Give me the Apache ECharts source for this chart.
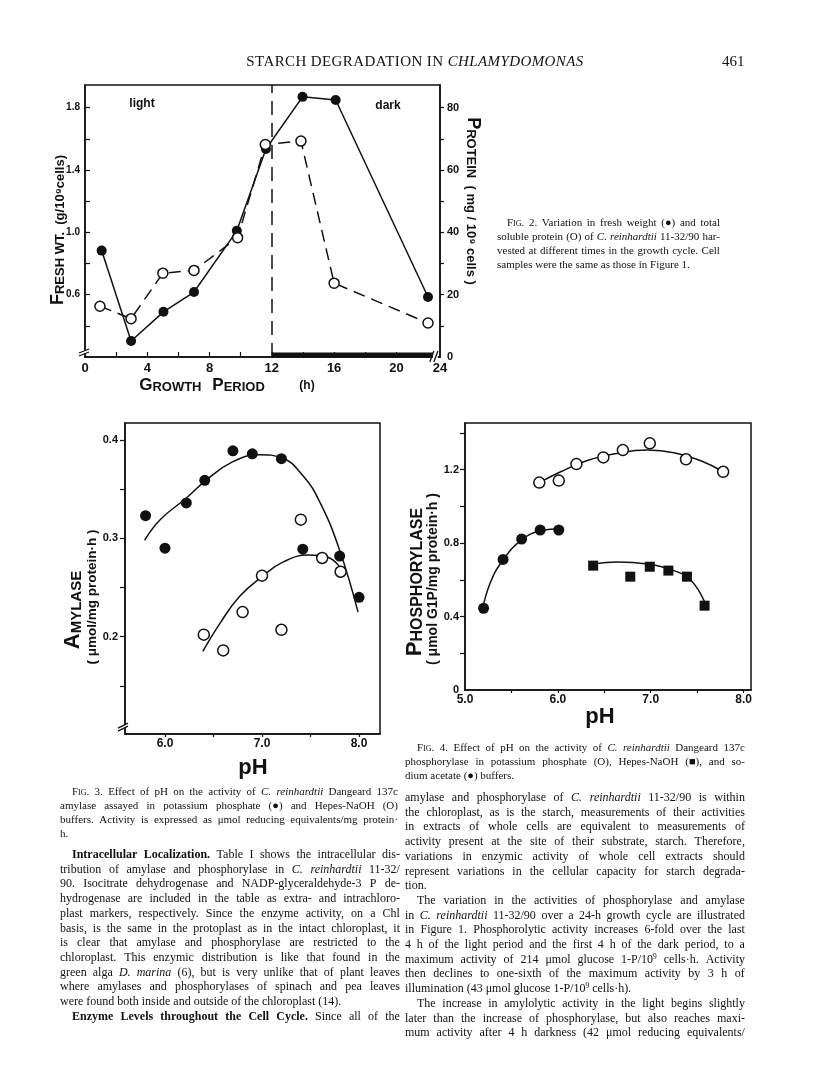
<!DOCTYPE html>
<html>
<head>
<meta charset="utf-8">
<title>Starch degradation in Chlamydomonas – p. 461</title>
<script src="https://cdn.jsdelivr.net/npm/echarts@6.0.0/dist/echarts.min.js"></script>
<style>
  html, body { margin:0; padding:0; background:#fff; }
  #page { position:relative; width:816px; height:1073px; overflow:hidden; background:#fff; }
  #chart { position:absolute; left:0; top:0; width:816px; height:1073px; }
  .txt { position:absolute; font-family:"Liberation Serif","Times New Roman",serif; color:#111; white-space:nowrap; box-sizing:border-box; }
  .jline { display:flex; justify-content:space-between; }
  .jline span { white-space:nowrap; }
  var { font-style:normal; font-variant:small-caps; }
  sup { font-size:0.62em; line-height:0; vertical-align:0.5em; }
</style>
</head>
<body>
<div id="page"><div id="chart"></div></div>
<script>
// ---------------- DATA ----------------
// Fig. 2 – growth cycle
const fig2FreshHours   = [1.07, 2.96, 5.04, 7.0, 9.75, 11.62, 13.97, 16.1, 22.03];
const fig2FreshWeight  = [0.883, 0.303, 0.49, 0.617, 1.01, 1.535, 1.87, 1.85, 0.585];
const fig2ProteinHours = [0.96, 2.96, 5.0, 7.0, 9.8, 11.58, 13.87, 16.0, 22.03];
const fig2Protein      = [16.3, 12.3, 26.9, 27.8, 38.3, 68.2, 69.3, 23.7, 10.9];
const fig2DarkStart    = 12;          // light / dark switch (h)
const fig2AxisEnd      = 22.8;        // broken axis: this position is labelled 24
const fig2BreakAt      = 22.35;       // where the "//" break sits on the time axis
const fig2XTickValues  = [2, 4, 6, 8, 10, 12, 14, 16, 18, 20];
const fig2XLabelValues = [0, 4, 8, 12, 16, 20, fig2AxisEnd];
const fig2XLabelTexts  = ['0', '4', '8', '12', '16', '20', '24'];
const fig2LeftTicks    = [0.4, 0.6, 0.8, 1.0, 1.2, 1.4, 1.6, 1.8];
const fig2LeftLabels   = [0.6, 1.0, 1.4, 1.8];
const fig2RightTicks   = [10, 20, 30, 40, 50, 60, 70, 80];
const fig2RightLabels  = [0, 20, 40, 60, 80];

// Fig. 3 – amylase vs pH
const fig3PhosphatePH      = [5.80, 6.00, 6.22, 6.41, 6.70, 6.90, 7.20, 7.42, 7.80, 8.00];
const fig3PhosphateAmylase = [0.323, 0.290, 0.336, 0.359, 0.389, 0.386, 0.381, 0.289, 0.282, 0.240];
const fig3HepesPH          = [6.40, 6.60, 6.80, 7.00, 7.20, 7.40, 7.62, 7.81];
const fig3HepesAmylase     = [0.202, 0.186, 0.225, 0.262, 0.207, 0.319, 0.280, 0.266];
const fig3PhosphateCurvePH = [5.79, 5.95, 6.22, 6.41, 6.70, 6.98, 7.20, 7.42, 7.60, 7.80, 7.99];
const fig3PhosphateCurve   = [0.298, 0.319, 0.341, 0.358, 0.378, 0.385, 0.382, 0.364, 0.336, 0.288, 0.225];
const fig3HepesCurvePH     = [6.39, 6.57, 6.77, 7.00, 7.22, 7.48, 7.67, 7.80];
const fig3HepesCurve       = [0.185, 0.214, 0.241, 0.261, 0.276, 0.283, 0.281, 0.271];
const fig3XTicks  = [6.0, 6.5, 7.0, 7.5, 8.0];
const fig3XLabels = [6.0, 7.0, 8.0];
const fig3YTicks  = [0.15, 0.2, 0.25, 0.3, 0.35, 0.4];
const fig3YLabels = [0.2, 0.3, 0.4];

// Fig. 4 – phosphorylase vs pH
const fig4AcetatePH        = [5.20, 5.41, 5.61, 5.81, 6.01];
const fig4AcetateAct       = [0.445, 0.711, 0.822, 0.871, 0.871];
const fig4AcetateCurvePH   = [5.18, 5.27, 5.41, 5.61, 5.81, 6.04];
const fig4AcetateCurve     = [0.418, 0.581, 0.708, 0.817, 0.866, 0.878];
const fig4PhosphatePH      = [5.80, 6.01, 6.20, 6.49, 6.70, 6.99, 7.38, 7.78];
const fig4PhosphateAct     = [1.129, 1.140, 1.230, 1.266, 1.306, 1.343, 1.256, 1.188];
const fig4PhosphateCurvePH = [5.80, 6.03, 6.31, 6.64, 6.96, 7.25, 7.54, 7.78];
const fig4PhosphateCurve   = [1.129, 1.188, 1.248, 1.288, 1.306, 1.292, 1.248, 1.188];
const fig4HepesPH          = [6.38, 6.78, 6.99, 7.19, 7.39, 7.58];
const fig4HepesAct         = [0.677, 0.617, 0.671, 0.650, 0.617, 0.459];
const fig4HepesCurvePH     = [6.38, 6.64, 6.96, 7.25, 7.43, 7.58];
const fig4HepesCurve       = [0.686, 0.697, 0.686, 0.650, 0.599, 0.480];
const fig4XTicks  = [5.5, 6.0, 6.5, 7.0, 7.5, 8.0];
const fig4XLabels = [5.0, 6.0, 7.0, 8.0];
const fig4YTicks  = [0.2, 0.4, 0.6, 0.8, 1.0, 1.2, 1.4];
const fig4YLabels = [0, 0.4, 0.8, 1.2];

// ---------------- PAGE TEXT ----------------
const headerTitle = 'STARCH DEGRADATION IN <i>CHLAMYDOMONAS</i>';
const pageNumber = '461';
const fig2Caption = [
  {t:'<var>Fig.</var> 2. Variation in fresh weight (●) and total', indent:10},
  {t:'soluble protein (O) of <i>C.</i> <i>reinhardtii</i> 11-32/90 har-'},
  {t:'vested at different times in the growth cycle. Cell'},
  {t:'samples were the same as those in Figure 1.', justify:false}
];
const fig3Caption = [
  {t:'<var>Fig.</var> 3. Effect of pH on the activity of <i>C.</i> <i>reinhardtii</i> Dangeard 137c', indent:12},
  {t:'amylase assayed in potassium phosphate (●) and Hepes-NaOH (O)'},
  {t:'buffers. Activity is expressed as μmol reducing equivalents/mg protein·'},
  {t:'h.', justify:false}
];
const fig4Caption = [
  {t:'<var>Fig.</var> 4. Effect of pH on the activity of <i>C.</i> <i>reinhardtii</i> Dangeard 137c', indent:12},
  {t:'phosphorylase in potassium phosphate (O), Hepes-NaOH (■), and so-'},
  {t:'dium acetate (●) buffers.', justify:false}
];
const leftColumn = [
  {t:'<b>Intracellular</b> <b>Localization.</b> Table I shows the intracellular dis-', indent:12},
  {t:'tribution of amylase and phosphorylase in <i>C.</i> <i>reinhardtii</i> 11-32/'},
  {t:'90. Isocitrate dehydrogenase and NADP-glyceraldehyde-3 P de-'},
  {t:'hydrogenase are included in the table as extra- and intrachloro-'},
  {t:'plast markers, respectively. Since the enzyme activity, on a Chl'},
  {t:'basis, is the same in the protoplast as in the intact chloroplast, it'},
  {t:'is clear that amylase and phosphorylase are restricted to the'},
  {t:'chloroplast. This enzymic distribution is like that found in the'},
  {t:'green alga <i>D.</i> <i>marina</i> (6), but is very unlike that of plant leaves'},
  {t:'where amylases and phosphorylases of spinach and pea leaves'},
  {t:'were found both inside and outside of the chloroplast (14).', justify:false},
  {t:'<b>Enzyme</b> <b>Levels</b> <b>throughout</b> <b>the</b> <b>Cell</b> <b>Cycle.</b> Since all of the', indent:12}
];
const rightColumn = [
  {t:'amylase and phosphorylase of <i>C.</i> <i>reinhardtii</i> 11-32/90 is within'},
  {t:'the chloroplast, as is the starch, measurements of their activities'},
  {t:'in extracts of whole cells are equivalent to measurements of'},
  {t:'activity present at the site of their substrate, starch. Therefore,'},
  {t:'variations in enzymic activity of whole cell extracts should'},
  {t:'represent variations in the cellular capacity for starch degrada-'},
  {t:'tion.', justify:false},
  {t:'The variation in the activities of phosphorylase and amylase', indent:12},
  {t:'in <i>C.</i> <i>reinhardtii</i> 11-32/90 over a 24-h growth cycle are illustrated'},
  {t:'in Figure 1. Phosphorolytic activity increases 6-fold over the last'},
  {t:'4 h of the light period and the first 4 h of the dark period, to a'},
  {t:'maximum activity of 214 μmol glucose 1-P/10<sup>9</sup> cells·h. Activity'},
  {t:'then declines to one-sixth of the maximum activity by 3 h of'},
  {t:'illumination (43 μmol glucose 1-P/10<sup>9</sup> cells·h).', justify:false},
  {t:'The increase in amylolytic activity in the light begins slightly', indent:12},
  {t:'later than the increase of phosphorylase, but also reaches maxi-'},
  {t:'mum activity after 4 h darkness (42 μmol reducing equivalents/'}
];

// ---------------- HELPERS ----------------
const FONT = '"Liberation Sans", Arial, sans-serif';
const INK = '#111111';
const zip = (a, b) => a.map((v, i) => [v, b[i]]);
const near = (a, b) => Math.abs(a - b) < 1e-6;
const lookupLabel = (values, texts) => v => {
  const i = values.findIndex(x => near(x, v));
  return i >= 0 ? texts[i] : '';
};
const fixed1 = v => (near(v, 0) ? '0' : v.toFixed(1));

function axisBase(extra) {
  return Object.assign({
    type: 'value',
    splitLine: { show: false },
    axisLine: { show: true, onZero: false, lineStyle: { color: INK, width: 1.5 } },
    axisTick: { show: true, length: 5, lineStyle: { color: INK, width: 1.2 } },
    axisLabel: { color: INK, fontFamily: FONT, fontWeight: 'bold', fontSize: 12 }
  }, extra);
}
function tickOpts(values, inside, length) {
  return { show: true, inside: inside, length: length || 5, customValues: values, lineStyle: { color: INK, width: 1.2 } };
}
function labelOpts(values, formatter, size, margin) {
  return { customValues: values, formatter: formatter, color: INK, fontFamily: FONT, fontWeight: 'bold', fontSize: size, margin: margin };
}
const frame = { show: true, borderColor: INK, borderWidth: 1.5, backgroundColor: 'transparent' };

const filledDot = { color: INK, opacity: 1 };
const openDot = { color: '#ffffff', borderColor: INK, borderWidth: 1.5, opacity: 1 };

function scatter(xi, yi, data, symbol, size, style) {
  return { type: 'scatter', xAxisIndex: xi, yAxisIndex: yi, data: data, symbol: symbol, symbolSize: size,
           itemStyle: style, z: 5, silent: true };
}
function curve(xi, yi, data) {
  return { type: 'line', xAxisIndex: xi, yAxisIndex: yi, data: data, smooth: 0.45, symbol: 'none',
           lineStyle: { color: INK, width: 1.5 }, z: 3, silent: true };
}

// ---------------- CHART ----------------
const chart = echarts.init(document.getElementById('chart'), null, { renderer: 'canvas', width: 816, height: 1073 });

const option = {
  animation: false,
  backgroundColor: '#ffffff',
  grid: [
    Object.assign({ left: 85, top: 85, width: 355, height: 272 }, frame),
    Object.assign({ left: 125, top: 423, width: 255, height: 311 }, frame),
    Object.assign({ left: 465, top: 423, width: 286, height: 267 }, frame)
  ],
  xAxis: [
    axisBase({ gridIndex: 0, min: 0, max: fig2AxisEnd,
      axisTick: tickOpts(fig2XTickValues, true, 5),
      axisLabel: labelOpts(fig2XLabelValues, lookupLabel(fig2XLabelValues, fig2XLabelTexts), 13, 5) }),
    axisBase({ gridIndex: 1, min: 5.588, max: 8.216,
      axisTick: tickOpts(fig3XTicks, false, 3),
      axisLabel: labelOpts(fig3XLabels, fixed1, 12, 4) }),
    axisBase({ gridIndex: 2, min: 5.0, max: 8.08,
      axisTick: tickOpts(fig4XTicks, false, 3),
      axisLabel: labelOpts(fig4XLabels, fixed1, 12, 4) })
  ],
  yAxis: [
    axisBase({ gridIndex: 0, position: 'left', min: 0.2, max: 1.946,
      axisTick: tickOpts(fig2LeftTicks, true, 5),
      axisLabel: labelOpts(fig2LeftLabels, fixed1, 10, 5) }),
    axisBase({ gridIndex: 0, position: 'right', min: 0, max: 87.3,
      axisTick: tickOpts(fig2RightTicks, false, 4),
      axisLabel: labelOpts(fig2RightLabels, v => String(Math.round(v)), 11, 7) }),
    axisBase({ gridIndex: 1, min: 0.101, max: 0.4173,
      axisTick: tickOpts(fig3YTicks, false, 5),
      axisLabel: labelOpts(fig3YLabels, fixed1, 11, 7) }),
    axisBase({ gridIndex: 2, min: 0, max: 1.4535,
      axisTick: tickOpts(fig4YTicks, false, 5),
      axisLabel: labelOpts(fig4YLabels, fixed1, 11, 6) })
  ],
  series: [
    // Fig. 2
    { type: 'line', xAxisIndex: 0, yAxisIndex: 0, data: zip(fig2FreshHours, fig2FreshWeight),
      symbol: 'circle', symbolSize: 10, itemStyle: filledDot,
      lineStyle: { color: INK, width: 1.5 }, z: 4, silent: true },
    { type: 'line', xAxisIndex: 0, yAxisIndex: 1, data: zip(fig2ProteinHours, fig2Protein),
      symbol: 'circle', symbolSize: 10, itemStyle: openDot,
      lineStyle: { color: INK, width: 1.5, type: [12, 7] }, z: 5, silent: true,
      markLine: { silent: true, symbol: ['none', 'none'], label: { show: false },
        lineStyle: { color: INK, width: 1.5, type: [14, 8] },
        data: [{ xAxis: fig2DarkStart }] } },
    // Fig. 3
    curve(1, 2, zip(fig3PhosphateCurvePH, fig3PhosphateCurve)),
    curve(1, 2, zip(fig3HepesCurvePH, fig3HepesCurve)),
    scatter(1, 2, zip(fig3PhosphatePH, fig3PhosphateAmylase), 'circle', 11, filledDot),
    scatter(1, 2, zip(fig3HepesPH, fig3HepesAmylase), 'circle', 11, openDot),
    // Fig. 4
    curve(2, 3, zip(fig4AcetateCurvePH, fig4AcetateCurve)),
    curve(2, 3, zip(fig4PhosphateCurvePH, fig4PhosphateCurve)),
    curve(2, 3, zip(fig4HepesCurvePH, fig4HepesCurve)),
    scatter(2, 3, zip(fig4AcetatePH, fig4AcetateAct), 'circle', 11, filledDot),
    scatter(2, 3, zip(fig4PhosphatePH, fig4PhosphateAct), 'circle', 11, openDot),
    scatter(2, 3, zip(fig4HepesPH, fig4HepesAct), 'rect', 10, filledDot)
  ]
};
chart.setOption(option);

// ---------------- TITLES & DECORATIONS ----------------
function capsText(x, y, rot, parts) {
  const rich = {};
  let text = '';
  parts.forEach((p, i) => {
    const k = 'p' + i;
    rich[k] = { fontSize: p[1], fontWeight: 'bold', fontFamily: FONT, lineHeight: p[1], verticalAlign: 'bottom', fill: INK };
    text += '{' + k + '|' + p[0] + '}';
  });
  return { type: 'text', x: x, y: y, rotation: rot, silent: true, z: 10,
           style: { text: text, rich: rich, fill: INK, align: 'center', verticalAlign: 'middle', fontFamily: FONT, fontWeight: 'bold' } };
}
function plainText(x, y, str, size) {
  return { type: 'text', x: x, y: y, silent: true, z: 10,
           style: { text: str, fill: INK, align: 'center', verticalAlign: 'middle', fontFamily: FONT, fontWeight: 'bold', fontSize: size } };
}
function seg(x1, y1, x2, y2, w) {
  return { type: 'line', silent: true, z: 12, shape: { x1: x1, y1: y1, x2: x2, y2: y2 }, style: { stroke: INK, lineWidth: w || 1.3 } };
}
function whiteRect(x, y, w, h) {
  return { type: 'rect', silent: true, z: 11, shape: { x: x, y: y, width: w, height: h }, style: { fill: '#ffffff' } };
}

const px2 = v => chart.convertToPixel({ xAxisIndex: 0, yAxisIndex: 0 }, v);
const darkA = px2([fig2DarkStart, 0.2]);
const darkB = px2([fig2BreakAt, 0.2]);
const brk2 = px2([fig2BreakAt + 0.12, 0.2]);
const origin2 = px2([0, 0.2]);
const origin3 = chart.convertToPixel({ xAxisIndex: 1, yAxisIndex: 2 }, [5.588, 0.108]);

const graphics = [
  // Fig. 2 dark-period bar and axis breaks
  { type: 'rect', silent: true, z: 9, shape: { x: darkA[0], y: darkA[1] - 4.5, width: darkB[0] - darkA[0], height: 5 }, style: { fill: INK } },
  whiteRect(brk2[0] - 2, brk2[1] - 4, 5, 8),
  seg(brk2[0] - 5, brk2[1] + 5, brk2[0] - 1, brk2[1] - 6),
  seg(brk2[0] - 1, brk2[1] + 5, brk2[0] + 3, brk2[1] - 6),
  whiteRect(origin2[0] - 4, origin2[1] - 7, 8, 3),
  seg(origin2[0] - 6, origin2[1] - 4, origin2[0] + 4, origin2[1] - 8),
  seg(origin2[0] - 6, origin2[1] - 1, origin2[0] + 4, origin2[1] - 5),
  // Fig. 3 axis break
  whiteRect(origin3[0] - 4, origin3[1] - 2, 8, 3),
  seg(origin3[0] - 7, origin3[1] + 1, origin3[0] + 3, origin3[1] - 4),
  seg(origin3[0] - 7, origin3[1] + 4, origin3[0] + 3, origin3[1] - 1),
  // Fig. 2 texts
  plainText(142, 104, 'light', 12),
  plainText(388, 106, 'dark', 12),
  capsText(58, 230, Math.PI / 2, [['F', 18], ['RESH WT.', 13], ['  (g/10⁹cells)', 13]]),
  capsText(473, 201, -Math.PI / 2, [['P', 18], ['ROTEIN', 13], ['  ( mg / 10⁹ cells )', 13]]),
  capsText(202, 385, 0, [['G', 17], ['ROWTH', 13], ['   ', 13], ['P', 17], ['ERIOD', 13]]),
  plainText(307, 386, '(h)', 12),
  // Fig. 3 texts
  capsText(73, 610, Math.PI / 2, [['A', 22], ['MYLASE', 15]]),
  capsText(93, 597, Math.PI / 2, [['( μmol/mg protein·h )', 13.5]]),
  plainText(253, 768, 'pH', 22),
  // Fig. 4 texts
  capsText(415, 582, Math.PI / 2, [['P', 22], ['HOSPHORYLASE', 16]]),
  capsText(433, 579, Math.PI / 2, [['( μmol G1P/mg protein·h )', 14]]),
  plainText(600, 717, 'pH', 22)
];
chart.setOption({ graphic: graphics });

// ---------------- RUNNING TEXT ----------------
const page = document.getElementById('page');
function placeLines(lines, cfg) {
  lines.forEach((ln, i) => {
    const d = document.createElement('div');
    d.className = 'txt';
    const y = cfg.top + i * cfg.step;
    d.style.left = cfg.left + 'px';
    d.style.width = cfg.width + 'px';
    d.style.fontSize = cfg.size + 'px';
    d.style.lineHeight = cfg.lh + 'px';
    d.style.height = cfg.lh + 'px';
    d.style.top = (y - cfg.lh / 2) + 'px';
    d.style.paddingLeft = (ln.indent || 0) + 'px';
    if (ln.justify !== false) {
      d.classList.add('jline');
      d.innerHTML = ln.t.split(' ').map(w => '<span>' + w + '</span>').join('');
    } else {
      d.innerHTML = ln.t;
    }
    page.appendChild(d);
  });
}
function placeText(html, x, y, size, center, spacing) {
  const d = document.createElement('div');
  d.className = 'txt';
  d.style.fontSize = size + 'px';
  d.style.lineHeight = (size + 4) + 'px';
  d.style.top = (y - (size + 4) / 2) + 'px';
  d.style.left = x + 'px';
  if (spacing) d.style.letterSpacing = spacing + 'px';
  if (center) d.style.transform = 'translateX(-50%)';
  d.innerHTML = html;
  page.appendChild(d);
}
placeText(headerTitle, 415, 61, 15, true, 0.4);
placeText(pageNumber, 722, 61, 15, false, 0);
placeLines(fig2Caption, { left: 497, width: 223, top: 222, step: 14, size: 11, lh: 13 });
placeLines(fig4Caption, { left: 405, width: 340, top: 747, step: 14, size: 11, lh: 13 });
placeLines(fig3Caption, { left: 60, width: 338, top: 791, step: 14, size: 11, lh: 13 });
placeLines(leftColumn,  { left: 60, width: 340, top: 854, step: 14.7, size: 12, lh: 14 });
placeLines(rightColumn, { left: 405, width: 340, top: 797, step: 14.7, size: 12, lh: 14 });
</script>
</body>
</html>
